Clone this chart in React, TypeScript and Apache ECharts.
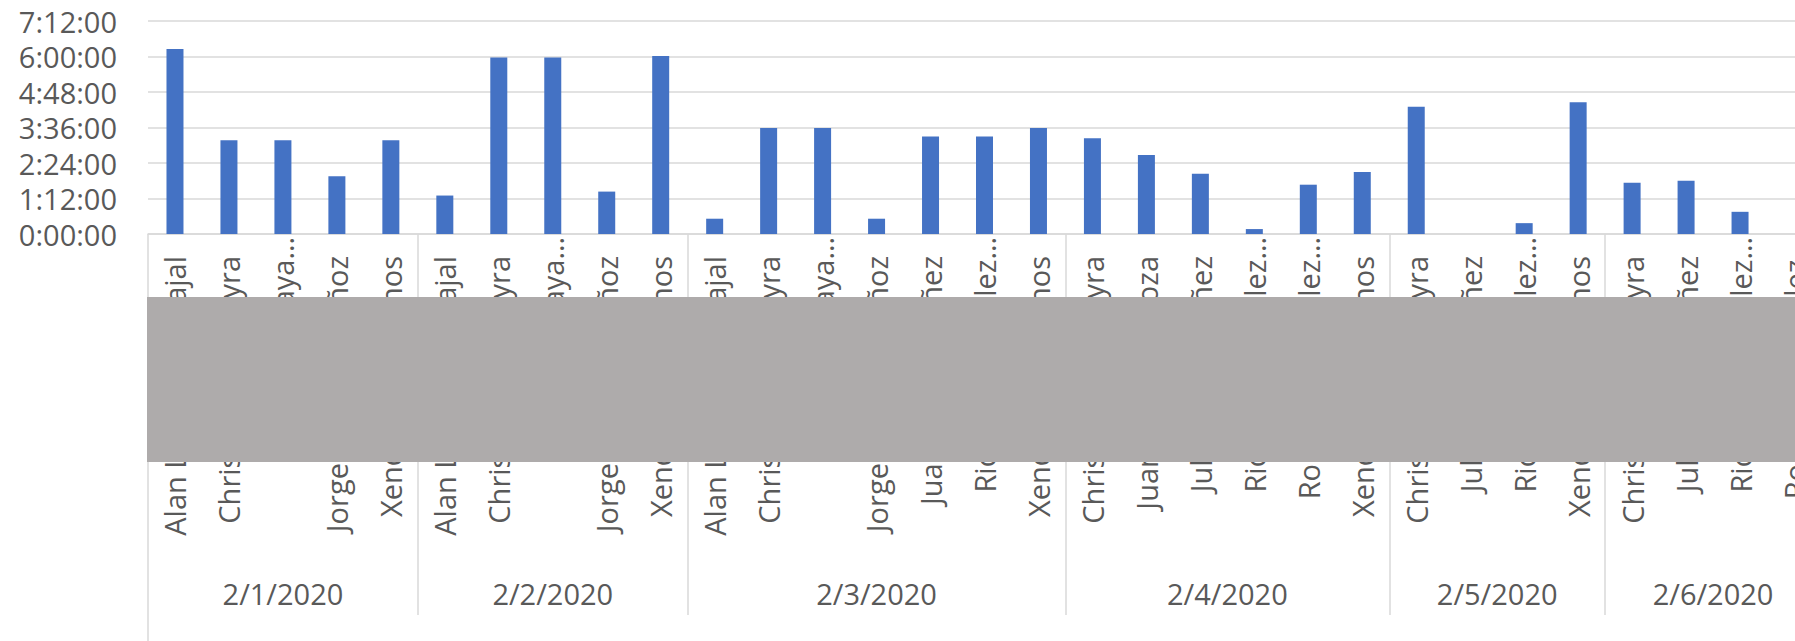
import React, { useEffect, useRef } from "react";
import * as echarts from "echarts";

// ---- data ----
const categoryNames: string[] = [
  // 2/1/2020
  "Alan Lozano Carvajal", "Christian Díaz Leyra", "Karla Anaya…", "Jorge Alberto Muñoz", "Xendra Solís Llanos",
  // 2/2/2020
  "Alan Lozano Carvajal", "Christian Díaz Leyra", "Karla Anaya…", "Jorge Alberto Muñoz", "Xendra Solís Llanos",
  // 2/3/2020
  "Alan Lozano Carvajal", "Christian Díaz Leyra", "Karla Anaya…", "Jorge Alberto Muñoz", "Juan Carlos Ibáñez", "Ricardo González…", "Xendra Solís Llanos",
  // 2/4/2020
  "Christian Díaz Leyra", "Juan Luis Mendoza", "Julio César Núñez", "Ricardo González…", "Roberto González…", "Xendra Solís Llanos",
  // 2/5/2020
  "Christian Díaz Leyra", "Julio César Núñez", "Ricardo González…", "Xendra Solís Llanos",
  // 2/6/2020
  "Christian Díaz Leyra", "Julio César Núñez", "Ricardo González…", "Roberto González…",
];

const categoryDates: string[] = [
  "2/1/2020", "2/1/2020", "2/1/2020", "2/1/2020", "2/1/2020",
  "2/2/2020", "2/2/2020", "2/2/2020", "2/2/2020", "2/2/2020",
  "2/3/2020", "2/3/2020", "2/3/2020", "2/3/2020", "2/3/2020", "2/3/2020", "2/3/2020",
  "2/4/2020", "2/4/2020", "2/4/2020", "2/4/2020", "2/4/2020", "2/4/2020",
  "2/5/2020", "2/5/2020", "2/5/2020", "2/5/2020",
  "2/6/2020", "2/6/2020", "2/6/2020", "2/6/2020",
];

// durations in minutes
const durationMinutes: number[] = [
  375, 190, 190, 117, 190,
  78, 358, 358, 86, 361,
  31, 215, 215, 31, 198, 198, 215,
  194, 160, 122, 10, 100, 126,
  258, 0, 22, 267,
  104, 108, 45, 0,
];

const yTickMinutes = 72;
const yMaxMinutes = 432;

// ---- derived grouping ----
const groupBoundaries: number[] = [];
const groupCenters: number[] = [];
const groupLabels: string[] = [];
{
  let start = 0;
  for (let i = 1; i <= categoryDates.length; i++) {
    if (i === categoryDates.length || categoryDates[i] !== categoryDates[start]) {
      groupLabels.push(categoryDates[start]);
      groupCenters.push((start + i) / 2);
      if (start > 0) groupBoundaries.push(start);
      start = i;
    }
  }
  groupBoundaries.push(categoryDates.length);
}

const fmtDuration = (v: number) =>
  `${Math.floor(v / 60)}:${String(Math.round(v % 60)).padStart(2, "0")}:00`;

const TEXT = "#595959";
const FONT = "Open Sans";
const LINE = "#d9d9d9";

export default function App() {
  const ref = useRef<HTMLDivElement>(null);
  useEffect(() => {
    if (!ref.current) return;
    const chart = echarts.init(ref.current, undefined, { renderer: "svg" });
    const n = categoryNames.length;
    chart.setOption({
      animation: false,
      backgroundColor: "#ffffff",
      textStyle: { fontFamily: FONT },
      grid: {
        left: 148,
        top: 21,
        width: 1673,
        height: 213,
        containLabel: false,
        outerBoundsMode: "none",
      },
      xAxis: [
        {
          type: "category",
          data: categoryNames,
          position: "bottom",
          axisLine: { show: true, lineStyle: { color: LINE, width: 1.5 } },
          axisTick: { show: false },
          axisLabel: {
            interval: 0,
            rotate: 90,
            margin: 3,
            hideOverlap: false,
            fontFamily: FONT,
            fontSize: 29,
            color: TEXT,
            formatter: (v: string) => (v.endsWith("…") ? `{t|${v}}` : `{n|${v}}`),
            rich: {
              t: { fontFamily: FONT, fontSize: 29, color: TEXT },
              n: { fontFamily: FONT, fontSize: 29, color: TEXT, padding: [0, 19, 0, 0] },
            },
          },
        },
        {
          type: "value",
          min: 0,
          max: n,
          position: "bottom",
          axisLine: { show: false },
          splitLine: { show: false },
          axisTick: {
            show: true,
            customValues: groupBoundaries,
            length: 381,
            lineStyle: { color: LINE, width: 1.5 },
          },
          axisLabel: {
            show: true,
            customValues: groupCenters,
            margin: 359,
            verticalAlign: "middle",
            fontFamily: FONT,
            fontSize: 29,
            color: TEXT,
            formatter: (v: number) => {
              const idx = groupCenters.indexOf(v);
              return idx >= 0 ? groupLabels[idx] : "";
            },
          },
        },
        {
          type: "value",
          min: 0,
          max: n,
          position: "bottom",
          axisLine: { show: false },
          splitLine: { show: false },
          axisLabel: { show: false },
          axisTick: {
            show: true,
            customValues: [0],
            length: 420,
            lineStyle: { color: LINE, width: 1.5 },
          },
        },
      ],
      yAxis: {
        type: "value",
        min: 0,
        max: yMaxMinutes,
        interval: yTickMinutes,
        axisLine: { show: false },
        axisTick: { show: false },
        splitLine: { show: true, lineStyle: { color: LINE, width: 1.5 } },
        axisLabel: {
          margin: 31,
          fontFamily: FONT,
          fontSize: 29,
          color: TEXT,
          formatter: fmtDuration,
        },
      },
      series: [
        {
          type: "bar",
          xAxisIndex: 0,
          data: durationMinutes,
          barWidth: 17,
          itemStyle: { color: "#4472C4" },
        },
      ],
      graphic: [
        {
          type: "rect",
          z: 100,
          silent: true,
          shape: { x: 147, y: 297, width: 1800, height: 165 },
          style: { fill: "#aeabab" },
        },
      ],
    });
    return () => chart.dispose();
  }, []);
  return (
    <div
      style={{
        position: "absolute",
        left: 0,
        top: 0,
        width: 1795,
        height: 641,
        overflow: "hidden",
        background: "#fff",
      }}
    >
      <div ref={ref} style={{ width: 1900, height: 641 }} />
    </div>
  );
}
